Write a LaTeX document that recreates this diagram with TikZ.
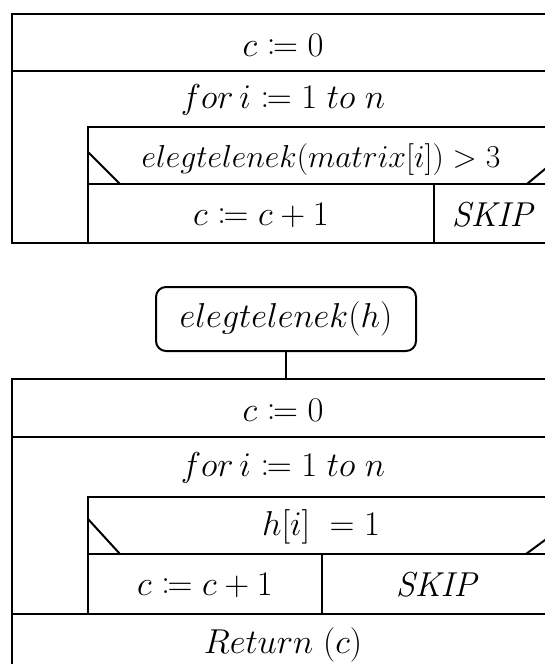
\documentclass[tikz,border=0pt]{standalone}
\usepackage{graphicx}
\usepackage{mathtools}
\begin{document}
\begin{tikzpicture}[x=0.5pt,y=-0.5pt, line width=1pt,
  txt/.style={inner sep=0pt, font=\fontsize{16}{19}\selectfont},
  startbox/.style={draw, rounded corners=5pt, minimum width=130pt, minimum height=32pt, inner sep=0pt, font=\fontsize{16}{19}\selectfont}]
\useasboundingbox (0,0) rectangle (545,664);
\clip (0,0) rectangle (545,664);
% ---------- top structogram ----------
\draw (12,14) rectangle (554,243);
\draw (12,71) -- (554,71);
\draw (88,243) -- (88,127) -- (554,127);
\draw (88,184) -- (554,184);
\draw (88,152) -- (120,184);
\draw (527,184) -- (563,154);
\draw (434,184) -- (434,243);
\node[txt] (a0) at (283,45) {$c \coloneqq 0$};
\node[txt] (afor) at (283,100) {$for\,i \coloneqq 1\;to\;n$};
\node[txt] (acond) at (321,160) {\scalebox{0.92}{$elegtelenek(matrix[i]) > 3$}};
\node[txt] (ainc) at (261,215) {$c \coloneqq c+1$};
\node[txt] (askip) at (494,215) {$\mathit{SKIP}$};
% ---------- bottom structogram ----------
\node[startbox] (fn) at (286,319) {$elegtelenek(h)$};
\coordinate (btop) at (286,379);
\draw (fn.south) -- (btop);
\draw (12,700) -- (12,379) -- (554,379);
\draw (12,437) -- (554,437);
\draw (88,614) -- (88,497) -- (554,497);
\draw (88,554) -- (554,554);
\draw (88,519) -- (120,554);
\draw (526,554) -- (560,529);
\draw (322,554) -- (322,614);
\draw (12,614) -- (554,614);
\node[txt] (b0) at (283,410) {$c \coloneqq 0$};
\node[txt] (bfor) at (283,468) {$for\,i \coloneqq 1\;to\;n$};
\node[txt] (bcond) at (321,527) {$h[i]\ = 1$};
\node[txt] (binc) at (205,585) {$c \coloneqq c+1$};
\node[txt] (bskip) at (438,585) {$\mathit{SKIP}$};
\node[txt] (bret) at (283,645) {$Return\ (c)$};
\end{tikzpicture}
\end{document}
